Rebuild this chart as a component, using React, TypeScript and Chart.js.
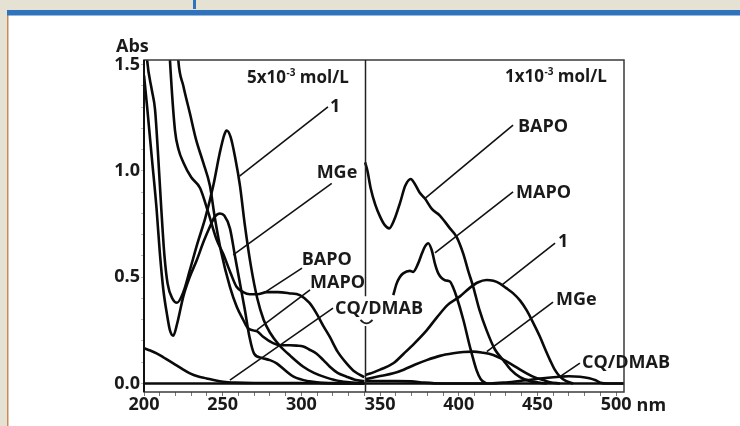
import { useEffect, useRef } from 'react';
import { Chart, registerables } from 'chart.js';
Chart.register(...registerables);

// ---------- data (wavelength in nm, absorbance) ----------
// left panel, 5x10^-3 mol/L
const c1LeftNm = [200, 202, 205, 207, 209, 211, 213, 215, 218, 221, 225, 229, 234, 239, 244, 248, 251, 252.5, 255, 258, 261, 264, 268, 272, 276, 280, 286, 293, 301, 308, 315, 325, 340];
const c1LeftAbs = [1.75, 1.52, 1.38, 1.29, 1.07, 0.82, 0.6, 0.47, 0.4, 0.38, 0.43, 0.53, 0.66, 0.78, 0.93, 1.08, 1.17, 1.19, 1.16, 1.06, 0.93, 0.75, 0.55, 0.4, 0.3, 0.24, 0.18, 0.13, 0.08, 0.05, 0.03, 0.01, 0.0];

const mgeLeftNm = [200, 202, 205, 208, 210, 212.3, 214.5, 216.5, 218.6, 221, 225, 229, 233.5, 238, 242, 245, 248.3, 251, 254.6, 257.8, 261, 264, 267, 270, 275, 280, 284.3, 290, 295, 305, 320, 340];
const mgeLeftAbs = [1.45, 1.3, 1.06, 0.82, 0.62, 0.44, 0.33, 0.25, 0.225, 0.28, 0.41, 0.5, 0.58, 0.67, 0.74, 0.785, 0.8, 0.79, 0.73, 0.6, 0.47, 0.35, 0.22, 0.14, 0.12, 0.11, 0.095, 0.06, 0.032, 0.01, 0.0, 0.0];

const bapoLeftNm = [214, 216.5, 219.7, 222, 225, 230, 235.6, 241, 246, 250.3, 255, 258.8, 263, 267.3, 272, 278, 285, 292, 299, 305, 309.6, 314, 318, 323, 328.7, 334, 340];
const bapoLeftAbs = [1.9, 1.52, 1.19, 1.1, 1.04, 0.97, 0.92, 0.8, 0.68, 0.61, 0.52, 0.455, 0.43, 0.42, 0.42, 0.43, 0.43, 0.425, 0.416, 0.38, 0.33, 0.27, 0.22, 0.15, 0.095, 0.055, 0.03];

const mapoLeftNm = [219, 221.8, 225, 229.2, 233, 237.6, 241.9, 245, 249, 254.6, 259, 263, 266, 269.4, 272, 275.7, 282, 287, 292.8, 297, 301.2, 305, 309.7, 314, 318.1, 323, 328.7, 334, 340];
const mapoLeftAbs = [1.9, 1.52, 1.4, 1.27, 1.15, 1.04, 0.93, 0.78, 0.62, 0.455, 0.36, 0.3, 0.26, 0.25, 0.245, 0.22, 0.19, 0.18, 0.18, 0.178, 0.174, 0.16, 0.14, 0.11, 0.079, 0.05, 0.032, 0.018, 0.01];

const cqLeftNm = [200, 204, 208, 213, 218.6, 224, 229.2, 234, 239.8, 245, 250.4, 258, 270, 340];
const cqLeftAbs = [0.166, 0.155, 0.142, 0.12, 0.095, 0.07, 0.048, 0.034, 0.024, 0.015, 0.008, 0.004, 0.002, 0.002];

// right panel, 1x10^-3 mol/L
const bapoRightNm = [340.5, 342, 344, 347, 350, 353, 355.8, 359, 362.7, 366, 369.5, 372, 375, 378.5, 383, 388, 394.4, 398.6, 402.9, 406, 409.2, 413, 417.7, 423, 428.3, 433, 438.9, 446, 456];
const bapoRightAbs = [1.04, 1.0, 0.92, 0.84, 0.785, 0.745, 0.73, 0.77, 0.85, 0.93, 0.962, 0.94, 0.9, 0.87, 0.82, 0.79, 0.73, 0.69, 0.61, 0.53, 0.455, 0.35, 0.25, 0.16, 0.11, 0.065, 0.03, 0.01, 0.0];

const mapoRightNm = [358.4, 360.5, 362.5, 364.7, 369, 371, 374.2, 376.5, 378.5, 380.6, 382.8, 385, 387, 391.2, 394.4, 396.5, 398.6, 402.9, 407.1, 411.3, 414, 417.7];
const mapoRightAbs = [0.416, 0.47, 0.5, 0.518, 0.53, 0.525, 0.565, 0.61, 0.644, 0.66, 0.628, 0.56, 0.518, 0.486, 0.48, 0.45, 0.408, 0.3, 0.173, 0.063, 0.02, 0.0];

const c1RightNm = [340.5, 345, 350, 358.4, 365, 372, 379.6, 386, 393, 400.8, 407, 412, 417.7, 422, 426.2, 430, 434.6, 439, 443.1, 447, 451.6, 455, 458, 461, 464.3, 468, 472.8];
const c1RightAbs = [0.04, 0.05, 0.065, 0.095, 0.14, 0.19, 0.25, 0.31, 0.37, 0.41, 0.45, 0.475, 0.487, 0.483, 0.47, 0.45, 0.424, 0.39, 0.345, 0.29, 0.22, 0.16, 0.11, 0.065, 0.032, 0.012, 0.0];

const mgeRightNm = [340.5, 350, 358.4, 365, 372, 379.6, 388, 396.5, 403, 409.2, 415, 421.9, 427, 432.5, 438, 443.1, 448, 453.7, 458, 464.3];
const mgeRightAbs = [0.02, 0.035, 0.048, 0.065, 0.088, 0.11, 0.13, 0.142, 0.148, 0.15, 0.145, 0.134, 0.117, 0.095, 0.07, 0.048, 0.03, 0.016, 0.006, 0.0];

const cqRightNm = [340.5, 360, 370, 378, 390, 420, 430, 443, 455, 464.3, 470, 477, 483, 487, 490, 495, 505];
const cqRightAbs = [0.012, 0.012, 0.01, 0.004, 0.0, 0.0, 0.005, 0.016, 0.026, 0.032, 0.034, 0.032, 0.025, 0.015, 0.004, 0.0, 0.0];

const baselineNm = [200, 505];
const baselineAbs = [0, 0];

// axes
const xTickValues = [200, 210, 220, 230, 240, 250, 260, 270, 280, 290, 300, 310, 320, 330, 340, 350, 360, 370, 380, 390, 400, 410, 420, 430, 440, 450, 460, 470, 480, 490, 500];
const xLabelValues = [200, 250, 300, 350, 400, 450, 500];
const yTickValues = [0, 0.1, 0.2, 0.3, 0.4, 0.5, 0.6, 0.7, 0.8, 0.9, 1.0, 1.1, 1.2, 1.3, 1.4, 1.5];
const yLabelValues = [0, 0.5, 1.0, 1.5];
const panelDivider = 340.4;

// annotations: label text position, leader start and end (nm, abs)
const notes = [
  { text: '1', at: [318.2, 1.277], from: [316.9, 1.301], to: [260.7, 0.976] },
  { text: 'MGe', at: [309.7, 0.967], from: [319.3, 0.942], to: [256.7, 0.605] },
  { text: 'BAPO', at: [300.2, 0.558], from: [300.4, 0.543], to: [276.3, 0.426] },
  { text: 'MAPO', at: [305.5, 0.449], from: [305.5, 0.44], to: [271.8, 0.252] },
  { text: 'CQ/DMAB', at: [321.4, 0.327], from: [320.1, 0.355], to: [254.6, 0.016] },
  { text: 'BAPO', at: [437.6, 1.183], from: [434.5, 1.216], to: [378.6, 0.871] },
  { text: 'MAPO', at: [436.4, 0.873], from: [434.5, 0.901], to: [384.9, 0.614] },
  { text: '1', at: [463.1, 0.642], from: [461.2, 0.661], to: [427.3, 0.463] },
  { text: 'MGe', at: [461.8, 0.369], from: [459.9, 0.383], to: [417.8, 0.15] },
  { text: 'CQ/DMAB', at: [478.3, 0.073], from: [477, 0.096], to: [464.3, 0.032] },
];
const concTitles = [
  { base: '5x10', sup: '-3', rest: ' mol/L', at: [265.4, 1.414] },
  { base: '1x10', sup: '-3', rest: ' mol/L', at: [429.4, 1.418] },
];

const FAMILY = '"Open Sans", "DejaVu Sans", sans-serif';

export default function App() {
  const ref = useRef<HTMLCanvasElement>(null);

  useEffect(() => {
    const canvas = ref.current;
    if (!canvas) return;
    const pts = (xs: number[], ys: number[]) => xs.map((x, i) => ({ x, y: ys[i] }));
    const mk = (label: string, xs: number[], ys: number[], w = 2.6) => ({
      label,
      data: pts(xs, ys),
      borderColor: '#0a0a0a',
      borderWidth: w,
      pointRadius: 0,
      fill: false,
      cubicInterpolationMode: 'monotone' as const,
      clip: 0,
    });
    const datasets = [
      mk('baseline', baselineNm, baselineAbs, 2.6),
      mk('CQ/DMAB L', cqLeftNm, cqLeftAbs),
      mk('MGe L', mgeLeftNm, mgeLeftAbs),
      mk('1 L', c1LeftNm, c1LeftAbs),
      mk('BAPO L', bapoLeftNm, bapoLeftAbs),
      mk('MAPO L', mapoLeftNm, mapoLeftAbs),
      mk('BAPO R', bapoRightNm, bapoRightAbs),
      mk('MAPO R', mapoRightNm, mapoRightAbs),
      mk('1 R', c1RightNm, c1RightAbs),
      mk('MGe R', mgeRightNm, mgeRightAbs),
      mk('CQ/DMAB R', cqRightNm, cqRightAbs),
    ];

    const decor = {
      id: 'decor',
      beforeDraw(chart: any) {
        const ctx = chart.ctx;
        ctx.save();
        ctx.fillStyle = '#ffffff';
        ctx.fillRect(0, 0, chart.width, chart.height);
        ctx.fillStyle = '#e6e2d3';
        ctx.fillRect(0, 0, chart.width, 10);
        ctx.fillRect(0, 0, 7, chart.height);
        ctx.fillStyle = '#c98c58';
        ctx.fillRect(7, 15, 1.5, chart.height - 15);
        ctx.fillStyle = '#2f73bd';
        ctx.fillRect(7, 10, chart.width - 7, 5.5);
        ctx.fillRect(193, 0, 3, 9);
        ctx.restore();
      },
      afterDatasetsDraw(chart: any) {
        const ctx = chart.ctx;
        const xs = chart.scales.x;
        const ys = chart.scales.y;
        const X = (v: number) => xs.getPixelForValue(v);
        const Y = (v: number) => ys.getPixelForValue(v);
        const a = chart.chartArea;
        ctx.save();
        // frame
        ctx.strokeStyle = '#3a3a3a';
        ctx.lineWidth = 1.5;
        ctx.strokeRect(a.left, a.top, a.right - a.left, a.bottom - a.top);
        ctx.strokeStyle = '#111';
        ctx.lineWidth = 2;
        ctx.beginPath();
        ctx.moveTo(a.left, a.top);
        ctx.lineTo(a.left, a.bottom);
        ctx.stroke();
        // panel divider (interrupted by the CQ/DMAB label)
        const dx = Math.round(X(panelDivider)) + 0.5;
        ctx.strokeStyle = '#222';
        ctx.lineWidth = 1.5;
        ctx.beginPath();
        ctx.moveTo(dx, a.top);
        ctx.lineTo(dx, Y(0.41));
        ctx.moveTo(dx, Y(0.27));
        ctx.lineTo(dx, a.bottom);
        ctx.stroke();
        ctx.lineWidth = 1.8;
        ctx.beginPath();
        const by = Y(0.295);
        ctx.moveTo(dx - 5, by - 1);
        ctx.quadraticCurveTo(dx + 1, by + 6, dx + 7, by - 1);
        ctx.stroke();

        // leaders + labels
        ctx.strokeStyle = '#111';
        ctx.lineWidth = 1.6;
        ctx.fillStyle = '#1a1a1a';
        ctx.font = `bold 18px ${FAMILY}`;
        ctx.textBaseline = 'alphabetic';
        ctx.textAlign = 'left';
        notes.forEach((n) => {
          ctx.beginPath();
          ctx.moveTo(X(n.from[0]), Y(n.from[1]));
          ctx.lineTo(X(n.to[0]), Y(n.to[1]));
          ctx.stroke();
          ctx.fillText(n.text, X(n.at[0]), Y(n.at[1]));
        });
        // concentration titles
        concTitles.forEach((t) => {
          let x = X(t.at[0]);
          const y = Y(t.at[1]);
          ctx.font = `bold 17px ${FAMILY}`;
          ctx.fillText(t.base, x, y);
          x += ctx.measureText(t.base).width;
          ctx.font = `bold 10px ${FAMILY}`;
          ctx.fillText(t.sup, x + 0.5, y - 7);
          x += ctx.measureText(t.sup).width + 0.5;
          ctx.font = `bold 17px ${FAMILY}`;
          ctx.fillText(t.rest, x, y);
        });
        // axis words
        ctx.font = `bold 18px ${FAMILY}`;
        ctx.fillText('Abs', a.left - 28, a.top - 8);
        const x500 = X(500);
        const w500 = ctx.measureText('500').width;
        ctx.textBaseline = 'middle';
        ctx.fillText('nm', x500 + w500 / 2 + 5, a.bottom + 4 + 9 + 1);
        ctx.restore();
      },
    };

    const tickFont = { family: FAMILY, size: 18, weight: 'bold' as const, lineHeight: 1 };
    const chart = new Chart(canvas, {
      type: 'line',
      data: { datasets: datasets as any },
      options: {
        animation: false,
        responsive: false,
        devicePixelRatio: 1,
        layout: { padding: { left: 100, top: 60, right: 116, bottom: 4 } },
        plugins: { legend: { display: false }, tooltip: { enabled: false } },
        scales: {
          x: {
            type: 'linear',
            min: 200,
            max: 505,
            afterBuildTicks: (s: any) => {
              s.ticks = xTickValues.map((v) => ({ value: v }));
            },
            afterFit: (s: any) => {
              s.height = 30;
            },
            grid: { drawOnChartArea: false, drawTicks: true, tickLength: 4, color: '#777', lineWidth: 1 },
            border: { display: false },
            ticks: {
              autoSkip: false,
              maxRotation: 0,
              padding: 0,
              color: '#1a1a1a',
              font: tickFont,
              callback: (v: any) => (xLabelValues.includes(Number(v)) ? String(v) : ''),
            },
          },
          y: {
            type: 'linear',
            min: -0.04,
            max: 1.522,
            afterBuildTicks: (s: any) => {
              s.ticks = yTickValues.map((v) => ({ value: v }));
            },
            afterFit: (s: any) => {
              s.width = 44;
            },
            grid: { drawOnChartArea: false, drawTicks: true, tickLength: 3, color: '#bbb', lineWidth: 1 },
            border: { display: false },
            ticks: {
              autoSkip: false,
              padding: 1,
              color: '#1a1a1a',
              font: tickFont,
              callback: (v: any) => {
                const r = Math.round(Number(v) * 10) / 10;
                return yLabelValues.includes(r) ? r.toFixed(1) : '';
              },
            },
          },
        },
      },
      plugins: [decor],
    });
    return () => chart.destroy();
  }, []);

  return (
    <canvas
      ref={ref}
      width={740}
      height={426}
      style={{ position: 'fixed', left: 0, top: 0, width: 740, height: 426 }}
    />
  );
}
